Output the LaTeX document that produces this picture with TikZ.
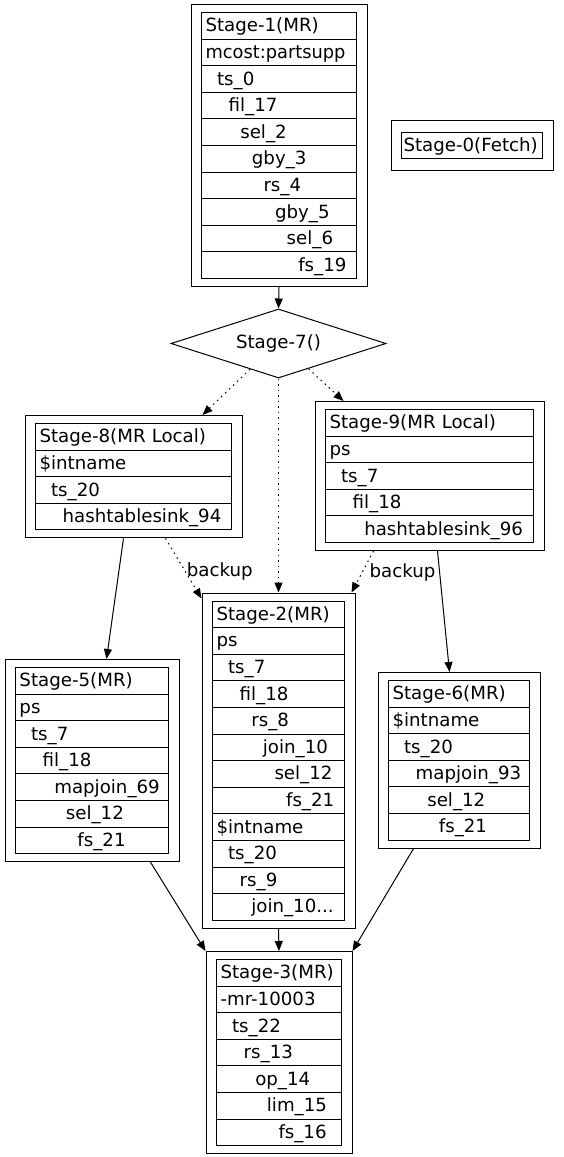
\documentclass[tikz,border=0pt]{standalone}
\usepackage{fontspec}
\setmainfont{DejaVu Sans}
\usetikzlibrary{shapes.geometric,fit,arrows.meta}

\newlength\lvlstep
\setlength\lvlstep{11.6pt}
\newcommand\moredots{...}

\begin{document}
\begin{tikzpicture}[x=1pt, y=-1pt, line width=1pt,
        every node/.style={font=\fontsize{18.2}{22}\selectfont},
        row/.style={draw, anchor=north west, inner xsep=4pt, inner ysep=0pt,
                minimum height=26.6pt, text height=15pt, text depth=3pt, align=left},
        outer/.style={draw, inner xsep=10pt, inner ysep=7.5pt},
        edge/.style={-{Triangle[length=10pt, width=8pt]}},
        dots/.style={edge, dash pattern=on 1.5pt off 4pt}]
            \useasboundingbox (0,0) rectangle (564,1157);

            % Stage-1
            \foreach \lv/\txt [count=\k] in {0/Stage-1(MR), 0/\resizebox{140pt}{\height}{mcost:partsupp},
                    1/ts\_0, 2/fil\_17, 3/sel\_2, 4/gby\_3, 5/rs\_4, 6/gby\_5, 7/sel\_6, 8/fs\_19} {
                    \node[row, text width=147pt] (s1-\k) at (201, {12+(\k-1)*26.6}) {\mbox{\hspace*{\lv\lvlstep}\txt}};
                }
            \node[outer, fit=(s1-1)(s1-10)] (s1) {};

            % Stage-0
            \node[row, text width=137pt, inner xsep=2pt] (s0-1) at (401, 131.5) {Stage-0(Fetch)};
            \node[outer, inner ysep=11pt, fit=(s0-1)] (s0) {};

            % Stage-7
            \node[draw, diamond, aspect=3.1, minimum width=215pt, minimum height=69pt,
                inner sep=1pt] (s7) at (278.5, 343.5) {Stage-7()};

            % Stage-8
            \foreach \lv/\txt [count=\k] in {0/Stage-8(MR Local), 0/\$intname, 1/ts\_20,
                    2/hashtablesink\_94} {
                    \node[row, text width=188pt] (s8-\k) at (35, {423+(\k-1)*26.6}) {\mbox{\hspace*{\lv\lvlstep}\txt}};
                }
            \node[outer, fit=(s8-1)(s8-4)] (s8) {};

            % Stage-9
            \foreach \lv/\txt [count=\k] in {0/Stage-9(MR Local), 0/ps, 1/ts\_7, 2/fil\_18,
                    3/hashtablesink\_96} {
                    \node[row, text width=200pt] (s9-\k) at (325, {409+(\k-1)*26.6}) {\mbox{\hspace*{\lv\lvlstep}\txt}};
                }
            \node[outer, fit=(s9-1)(s9-5)] (s9) {};

            % Stage-2
            \foreach \lv/\txt [count=\k] in {0/Stage-2(MR), 0/ps, 1/ts\_7, 2/fil\_18, 3/rs\_8,
                    4/join\_10, 5/sel\_12, 6/fs\_21, 0/\$intname, 1/ts\_20, 2/rs\_9, 3/join\_10\moredots} {
                    \node[row, text width=124pt] (s2-\k) at (212, {600.5+(\k-1)*26.6}) {\mbox{\hspace*{\lv\lvlstep}\txt}};
                }
            \node[outer, fit=(s2-1)(s2-12)] (s2) {};

            % Stage-5
            \foreach \lv/\txt [count=\k] in {0/Stage-5(MR), 0/ps, 1/ts\_7, 2/fil\_18,
                    3/mapjoin\_69, 4/sel\_12, 5/fs\_21} {
                    \node[row, text width=145pt] (s5-\k) at (15, {667+(\k-1)*26.6}) {\mbox{\hspace*{\lv\lvlstep}\txt}};
                }
            \node[outer, fit=(s5-1)(s5-7)] (s5) {};

            % Stage-6
            \foreach \lv/\txt [count=\k] in {0/Stage-6(MR), 0/\$intname, 1/ts\_20,
                    2/mapjoin\_93, 3/sel\_12, 4/fs\_21} {
                    \node[row, text width=133pt] (s6-\k) at (388, {680+(\k-1)*26.6}) {\mbox{\hspace*{\lv\lvlstep}\txt}};
                }
            \node[outer, fit=(s6-1)(s6-6)] (s6) {};

            % Stage-3
            \foreach \lv/\txt [count=\k] in {0/Stage-3(MR), 0/-mr-10003, 1/ts\_22, 2/rs\_13,
                    3/op\_14, 4/lim\_15, 5/fs\_16} {
                    \node[row, text width=117pt] (s3-\k) at (216, {959+(\k-1)*26.6}) {\mbox{\hspace*{\lv\lvlstep}\txt}};
                }
            \node[outer, fit=(s3-1)(s3-7)] (s3) {};

            % edges
            \draw[edge] (s1.south) -- (s7.north);
            \draw[dots] (s7.-138) -- ([xshift=69pt]s8.north);
            \draw[dots] (s7.south) -- (s2.north);
            \draw[dots] (s7.-40) -- ([xshift=-86pt]s9.north);
            \draw[edge] ([xshift=-10pt]s8.south) -- ([xshift=14.5pt]s5.north);
            \draw[dots] ([xshift=32pt]s8.south) -- node[pos=0.55, anchor=west, inner sep=1pt] (b8) {backup}
                ([yshift=-6pt]s2.north west);
            \draw[dots] ([xshift=-56pt]s9.south) -- node[pos=0.52, anchor=west, inner sep=1pt, xshift=6pt] (b9) {backup}
                ([xshift=-4pt]s2.north east);
            \draw[edge] ([xshift=8pt]s9.south) -- ([xshift=-9.5pt]s6.north);
            \draw[edge] ([xshift=58.5pt]s5.south) -- (s3.north west);
            \draw[edge] (s2.south) -- (s3.north);
            \draw[edge] ([xshift=-45.5pt]s6.south) -- (s3.north east);
        \end{tikzpicture}
\end{document}
